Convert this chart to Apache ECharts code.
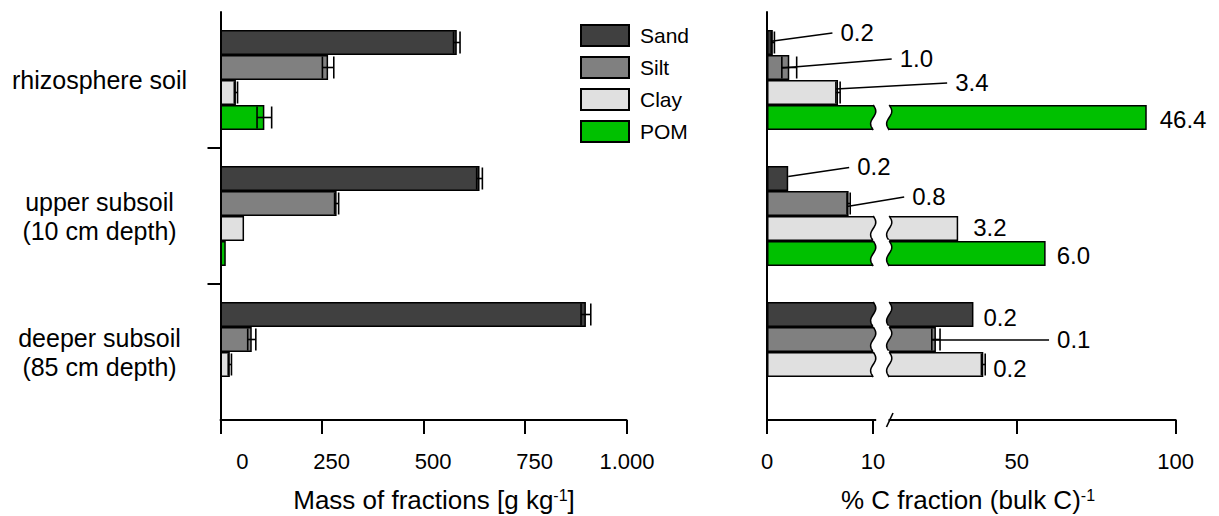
<!DOCTYPE html>
<html>
<head>
<meta charset="utf-8">
<script src="https://cdn.jsdelivr.net/npm/echarts@6/dist/echarts.min.js"></script>
<style>
  html, body { margin: 0; padding: 0; background: #fff; }
  #chart { width: 1219px; height: 516px; }
</style>
</head>
<body>
<div id="chart"></div>
<script>
// Soil particle-size fractions: mass per kg soil (left) and share of bulk soil C (right)
const sites = ['rhizosphere soil', 'upper subsoil\n(10 cm depth)', 'deeper subsoil\n(85 cm depth)'];
const fractions = ['Sand', 'Silt', 'Clay', 'POM'];

// Mass of fractions [g kg-1]: mean and standard error per site
const massSand = [582, 638, 900];
const massSandErr = [8, 7, 12];
const massSilt = [265, 286, 77];
const massSiltErr = [14, 5, 10];
const massClay = [38, 58, 23];
const massClayErr = [4, 0, 4];
const massPom = [108, 13, null];
const massPomErr = [18, 0, null];

// Share of bulk soil C held in each fraction [%]: mean and standard error
const cSand = [0.55, 2.0, 36.4];
const cSandErr = [0.15, 0, 0];
const cSilt = [2.1, 7.7, 24.6];
const cSiltErr = [0.7, 0.15, 1.3];
const cClay = [6.7, 31.6, 39.5];
const cClayErr = [0.2, 0, 0.6];
const cPom = [90.9, 59.1, null];
const cPomErr = [0, 0, null];

// Numbers printed beside the C bars
const noteSand = ['0.2', '0.2', '0.2'];
const noteSilt = ['1.0', '0.8', '0.1'];
const noteClay = ['3.4', '3.2', '0.2'];
const notePom = ['46.4', '6.0', null];

// Axis ticks
const massTicks = [0, 250, 500, 750, 1000];
const massTickText = ['0', '250', '500', '750', '1.000'];
const cTicksLow = [0, 10];
const cTicksHigh = [50, 100];
const cBreak = 10;

// ---- styling ----
const FONT = '"Liberation Sans", Arial, sans-serif';
const colors = ['#404040', '#808080', '#e0e0e0', '#00c000'];
const BAR = 25;
// note placement relative to the end of the error bar: [dx, dy, leader start dy | null]
const notePlacement = [
  [[66, -10.5, -1.3], [69, -12, -2], [10, 2.7, null]],
  [[103, -9.5, 0.5], [62, -7.5, 3], [117, -0.5, 0.5]],
  [[115, -10.5, -3.5], [15, -1, null], [8, 3.5, null]],
  [[13, 2, null], [11, 2, null], null]
];

const massSeries = [massSand, massSilt, massClay, massPom];
const massErrs = [massSandErr, massSiltErr, massClayErr, massPomErr];
const cSeries = [cSand, cSilt, cClay, cPom];
const cErrs = [cSandErr, cSiltErr, cClayErr, cPomErr];
const notes = [noteSand, noteSilt, noteClay, notePom];

function barCenter(api, row, k) {
  return api.coord([0, row])[1] - 2 * BAR + (k + 0.5) * BAR;
}

// error bar items
function errItems(vals, errs, keep) {
  const out = [];
  vals.forEach((arr, k) => arr.forEach((v, row) => {
    const e = errs[k][row];
    if (v == null || !e || !keep(v)) return;
    out.push([v, row, e, k]);
  }));
  return out;
}
function renderErr(params, api) {
  const v = api.value(0), row = api.value(1), e = api.value(2), k = api.value(3);
  const cy = barCenter(api, row, k);
  const lo = api.coord([v - e, row])[0];
  const hi = api.coord([v + e, row])[0];
  const st = { stroke: '#000', lineWidth: 1.6 };
  return {
    type: 'group',
    children: [
      { type: 'line', shape: { x1: lo, y1: cy, x2: hi, y2: cy }, style: st },
      { type: 'line', shape: { x1: lo, y1: cy - 11, x2: lo, y2: cy + 11 }, style: st },
      { type: 'line', shape: { x1: hi, y1: cy - 11, x2: hi, y2: cy + 11 }, style: st }
    ]
  };
}

// note items for the C panel
const noteItems = [];
fractions.forEach((f, k) => sites.forEach((s, row) => {
  const v = cSeries[k][row];
  if (v == null) return;
  noteItems.push({ k, row, v, e: cErrs[k][row] || 0, text: notes[k][row], place: notePlacement[k][row] });
}));
const lowNotes = noteItems.filter(it => it.v <= cBreak);
const highNotes = noteItems.filter(it => it.v > cBreak);
const brokenBars = noteItems.filter(it => it.v > cBreak);

function noteRenderer(list) {
  return function (params, api) {
    const it = list[params.dataIndex];
    const cy = barCenter(api, it.row, it.k);
    const xEnd = api.coord([it.v + it.e, it.row])[0];
    const xStart = api.coord([it.v - it.e, it.row])[0];
    const p = it.place;
    const tx = xEnd + p[0], ty = cy + p[1];
    const children = [{
      type: 'text', x: tx, y: ty,
      style: { text: it.text, fill: '#000', fontSize: 24, fontFamily: FONT, align: 'left', verticalAlign: 'middle' }
    }];
    if (p[2] !== null) {
      children.push({
        type: 'line',
        shape: { x1: xStart, y1: cy + p[2], x2: tx - 8, y2: ty + 1 },
        style: { stroke: '#000', lineWidth: 1.5 }
      });
    }
    return { type: 'group', children };
  };
}

// wavy gap across bars that run past the axis break
function renderBreak(params, api) {
  const it = brokenBars[params.dataIndex];
  const xc = api.coord([cBreak, it.row])[0];
  const top = barCenter(api, it.row, it.k) - BAR / 2;
  const bot = top + BAR;
  const xl = xc + 0.2, xr = xc + 16.2, A = 2.6, N = 20;
  const left = [], right = [];
  for (let i = 0; i <= N; i++) {
    const t = i / N;
    const y = top + t * BAR;
    const dx = A * Math.sin(2 * Math.PI * t);
    left.push([xl + dx, y]);
    right.push([xr + dx, y]);
  }
  const poly = [[xl, top - 1.3]].concat(left, [[xl, bot + 1.3], [xr, bot + 1.3]], right.slice().reverse(), [[xr, top - 1.3]]);
  return {
    type: 'group',
    children: [
      { type: 'polygon', shape: { points: poly }, style: { fill: '#fff', stroke: null } },
      { type: 'polyline', shape: { points: left }, style: { stroke: '#000', lineWidth: 1.5, fill: null } },
      { type: 'polyline', shape: { points: right }, style: { stroke: '#000', lineWidth: 1.5, fill: null } }
    ]
  };
}

// break marks on the C axis line
function renderAxisBreak(params, api) {
  const xc = api.coord([cBreak, 0])[0];
  const band = api.size([0, 1])[1];
  const yAxis = api.coord([0, sites.length - 1])[1] + band / 2;
  return {
    type: 'group',
    children: [
      { type: 'rect', shape: { x: xc + 3.5, y: yAxis - 2.5, width: 12, height: 5 }, style: { fill: '#fff' } },
      { type: 'line', shape: { x1: xc + 13.5, y1: yAxis + 7, x2: xc + 20, y2: yAxis - 7 }, style: { stroke: '#000', lineWidth: 1.6 } }
    ]
  };
}

// ticks between the site bands
function renderSiteTicks(params, api) {
  const row = api.value(1);
  const band = api.size([0, 1])[1];
  const y = api.coord([0, row])[1] - band / 2;
  const x = api.coord([0, row])[0];
  return { type: 'line', shape: { x1: x - 13, y1: y, x2: x, y2: y }, style: { stroke: '#000', lineWidth: 2 } };
}

const axisLineStyle = { color: '#000', width: 2 };
const tickLabel = { fontSize: 22, color: '#000', fontFamily: FONT, margin: 30 };

function barSet(vals, xi) {
  return vals.map((arr, k) => ({
    type: 'bar', name: fractions[k], xAxisIndex: xi, yAxisIndex: xi,
    data: arr, barWidth: BAR, barGap: '0%',
    itemStyle: { color: colors[k], borderColor: '#000', borderWidth: 1.5 },
    emphasis: { disabled: true }, z: 2
  }));
}

const chart = echarts.init(document.getElementById('chart'), null, { renderer: 'svg' });
chart.setOption({
  animation: false,
  backgroundColor: '#fff',
  textStyle: { fontFamily: FONT },
  legend: {
    data: fractions, orient: 'vertical', left: 580, top: 24, padding: 0,
    itemWidth: 48, itemHeight: 21, itemGap: 9, icon: 'rect', selectedMode: false,
    textStyle: { fontSize: 21, color: '#000', fontFamily: FONT, padding: [0, 0, 0, 6] }
  },
  grid: [
    { left: 220.5, top: 12, width: 406, height: 408 },
    { left: 767, top: 12, width: 108.65, height: 408 },
    { left: 886.3, top: 12, width: 289.4, height: 408 }
  ],
  xAxis: [
    {
      type: 'value', gridIndex: 0, min: 0, max: 1000, interval: 250,
      axisLine: { show: true, lineStyle: axisLineStyle },
      axisTick: { show: true, length: 14, lineStyle: axisLineStyle },
      splitLine: { show: false },
      axisLabel: Object.assign({}, tickLabel, {
        align: 'center',
        formatter: v => '{t|' + massTickText[massTicks.indexOf(v)] + '}',
        rich: { t: { width: 56, align: 'right', fontSize: 22, color: '#000', fontFamily: FONT } }
      })
    },
    {
      type: 'value', gridIndex: 1, min: 0, max: 10.25,
      axisLine: { show: true, lineStyle: axisLineStyle },
      axisTick: { show: true, length: 14, lineStyle: axisLineStyle, customValues: cTicksLow },
      splitLine: { show: false },
      axisLabel: Object.assign({}, tickLabel, { customValues: cTicksLow })
    },
    {
      type: 'value', gridIndex: 2, min: 9, max: 100,
      axisLine: { show: true, lineStyle: axisLineStyle },
      axisTick: { show: true, length: 14, lineStyle: axisLineStyle, customValues: cTicksHigh },
      splitLine: { show: false },
      axisLabel: Object.assign({}, tickLabel, { customValues: cTicksHigh })
    }
  ],
  yAxis: [
    {
      type: 'category', gridIndex: 0, data: sites, inverse: true,
      axisLine: { show: true, lineStyle: axisLineStyle },
      axisTick: { show: false },
      axisLabel: { fontSize: 25, color: '#000', fontFamily: FONT, align: 'center', margin: 121, lineHeight: 29 }
    },
    {
      type: 'category', gridIndex: 1, data: sites, inverse: true,
      axisLine: { show: true, lineStyle: axisLineStyle },
      axisTick: { show: false }, axisLabel: { show: false }
    },
    {
      type: 'category', gridIndex: 2, data: sites, inverse: true,
      axisLine: { show: false }, axisTick: { show: false }, axisLabel: { show: false }
    }
  ],
  graphic: [
    {
      type: 'text', x: 434, y: 500, z: 10,
      style: {
        text: '{a|Mass of fractions [g kg}{s|-1}{a|]}', align: 'center', verticalAlign: 'middle',
        rich: { a: { fontSize: 26, fontFamily: FONT, fill: '#000' }, s: { fontSize: 16, fontFamily: FONT, fill: '#000', verticalAlign: 'top' } }
      }
    },
    {
      type: 'text', x: 968, y: 500, z: 10,
      style: {
        text: '{a|% C fraction (bulk C)}{s|-1}', align: 'center', verticalAlign: 'middle',
        rich: { a: { fontSize: 26, fontFamily: FONT, fill: '#000' }, s: { fontSize: 16, fontFamily: FONT, fill: '#000', verticalAlign: 'top' } }
      }
    }
  ],
  series: [].concat(
    barSet(massSeries, 0),
    barSet(cSeries, 1),
    barSet(cSeries, 2),
    [
      {
        type: 'custom', name: 'site ticks', xAxisIndex: 0, yAxisIndex: 0, z: 3,
        data: sites.slice(1).map((s, i) => [0, i + 1]), encode: { x: 0, y: 1 },
        renderItem: renderSiteTicks, silent: true
      },
      {
        type: 'custom', name: 'mass error', xAxisIndex: 0, yAxisIndex: 0, z: 4,
        data: errItems(massSeries, massErrs, () => true), encode: { x: 0, y: 1 },
        renderItem: renderErr, silent: true
      },
      {
        type: 'custom', name: 'gap', xAxisIndex: 1, yAxisIndex: 1, z: 3,
        data: brokenBars.map(it => [cBreak, it.row]), encode: { x: 0, y: 1 },
        renderItem: renderBreak, silent: true
      },
      {
        type: 'custom', name: 'axis gap', xAxisIndex: 1, yAxisIndex: 1, z: 3,
        data: [[cBreak, 0]], encode: { x: 0, y: 1 },
        renderItem: renderAxisBreak, silent: true
      },
      {
        type: 'custom', name: 'C error low', xAxisIndex: 1, yAxisIndex: 1, z: 4,
        data: errItems(cSeries, cErrs, v => v <= cBreak), encode: { x: 0, y: 1 },
        renderItem: renderErr, silent: true
      },
      {
        type: 'custom', name: 'C error high', xAxisIndex: 2, yAxisIndex: 2, z: 4,
        data: errItems(cSeries, cErrs, v => v > cBreak), encode: { x: 0, y: 1 },
        renderItem: renderErr, silent: true
      },
      {
        type: 'custom', name: 'notes low', xAxisIndex: 1, yAxisIndex: 1, z: 5,
        data: lowNotes.map(it => [it.v, it.row]), encode: { x: 0, y: 1 },
        renderItem: noteRenderer(lowNotes), silent: true
      },
      {
        type: 'custom', name: 'notes high', xAxisIndex: 2, yAxisIndex: 2, z: 5,
        data: highNotes.map(it => [it.v, it.row]), encode: { x: 0, y: 1 },
        renderItem: noteRenderer(highNotes), silent: true
      }
    ]
  )
});
</script>
</body>
</html>
